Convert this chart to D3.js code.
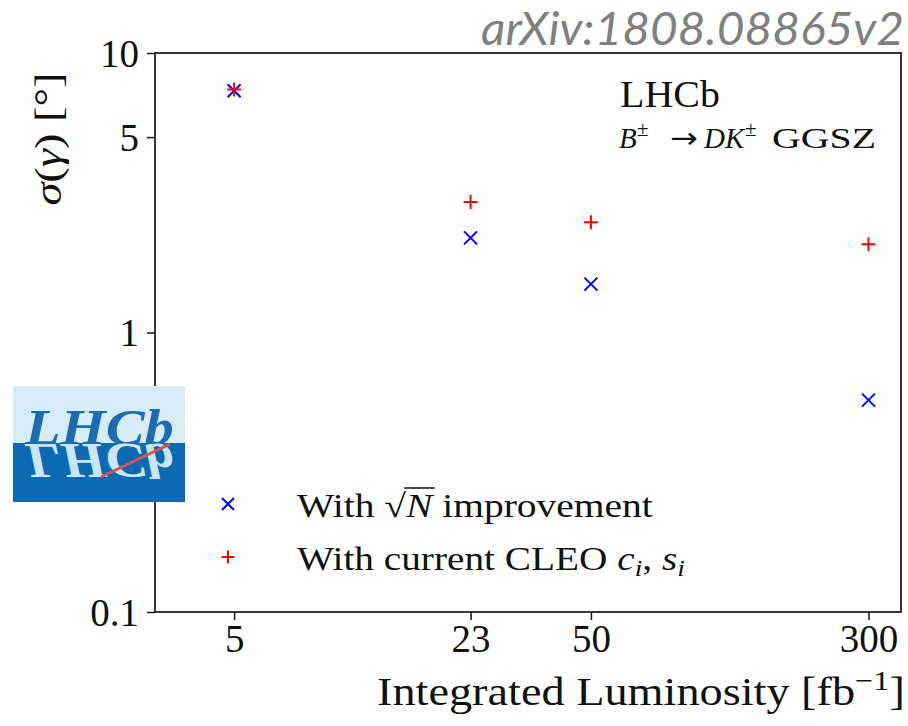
<!DOCTYPE html>
<html>
<head>
<meta charset="utf-8">
<script src="https://cdn.jsdelivr.net/npm/d3@7"></script>
<style>
  html, body { margin: 0; padding: 0; background: #fff; }
  svg { display: block; }
</style>
</head>
<body>
<svg id="chart" width="908" height="726"></svg>
<script>
// Integrated luminosity points (fb^-1) and the projected gamma precision (degrees)
const lumi = [5, 23, 50, 300];
const sigmaSqrtN = [7.33, 2.18, 1.49, 0.573];   // with sqrt(N) improvement
const sigmaCLEO = [7.41, 2.93, 2.48, 2.07];     // with current CLEO c_i, s_i
const xTickValues = [5, 23, 50, 300];
const yTickValues = [0.1, 1, 5, 10];
const yTickLabels = ["0.1", "1", "5", "10"];

const svg = d3.select("#chart");
const plot = { left: 155, right: 901, top: 53, bottom: 612 };

const x = d3.scaleLog().domain([3, 370]).range([plot.left, plot.right]);
const y = d3.scaleLog().domain([0.1, 10]).range([plot.bottom, plot.top]);

const serif = '"Liberation Serif", "DejaVu Serif", serif';
const ink = "#111";

// stretch a text group horizontally so it spans the given width
function stretchTo(g, text, x0, width) {
  const w = text.node().getBBox().width;
  const s = width / w;
  g.attr("transform", `translate(${x0},0) scale(${s},1)`);
  return s;
}

// watermark
{
  const g = svg.append("g");
  const t = g.append("text")
    .attr("x", 0).attr("y", 45)
    .attr("font-family", "Lato, 'Open Sans', sans-serif")
    .attr("font-style", "italic")
    .attr("font-weight", 400)
    .attr("font-size", 46)
    .attr("fill", "#808080")
    .text("arXiv:1808.08865v2");
  stretchTo(g, t, 481, 423);
}

// axes
const xAxis = d3.axisBottom(x)
  .tickValues(xTickValues)
  .tickFormat(d => String(d))
  .tickSize(8).tickSizeOuter(0).tickPadding(3);
const gx = svg.append("g")
  .attr("transform", `translate(0,${plot.bottom})`)
  .call(xAxis);

const yAxis = d3.axisLeft(y)
  .tickValues(yTickValues)
  .tickFormat(d => yTickLabels[yTickValues.indexOf(d)])
  .tickSize(8).tickSizeOuter(0).tickPadding(8);
const gy = svg.append("g")
  .attr("transform", `translate(${plot.left},0)`)
  .call(yAxis);

[gx, gy].forEach(g => {
  g.select(".domain").remove();
  g.selectAll(".tick line").attr("stroke", "#222").attr("stroke-width", 1.6);
  g.selectAll(".tick text")
    .attr("font-family", serif)
    .attr("font-size", 39)
    .attr("fill", ink);
});
gx.selectAll(".tick text").attr("dy", "0.75em");
gy.selectAll(".tick text").attr("dy", "0.34em");

// frame
svg.append("rect")
  .attr("x", plot.left).attr("y", plot.top)
  .attr("width", plot.right - plot.left)
  .attr("height", plot.bottom - plot.top)
  .attr("fill", "none")
  .attr("stroke", "#222")
  .attr("stroke-width", 1.8);

// x axis title
{
  const g = svg.append("g");
  const t = g.append("text")
    .attr("x", 0).attr("y", 705)
    .attr("font-family", serif)
    .attr("font-size", 40)
    .attr("fill", ink);
  t.append("tspan").text("Integrated Luminosity [fb");
  t.append("tspan").attr("dy", -15).attr("font-size", 28).text("\u22121");
  t.append("tspan").attr("dy", 15).text("]");
  stretchTo(g, t, 377, 528);
}

// y axis title
{
  const g = svg.append("g");
  const t = g.append("text")
    .attr("x", 0).attr("y", 0)
    .attr("text-anchor", "middle")
    .attr("font-family", serif)
    .attr("font-size", 39)
    .attr("fill", ink);
  t.append("tspan").attr("font-style", "italic").text("\u03C3");
  t.append("tspan").text("(");
  t.append("tspan").attr("font-style", "italic").text("\u03B3");
  t.append("tspan").text(") [\u00B0]");
  const w = t.node().getBBox().width;
  g.attr("transform", `translate(61,139) rotate(-90) scale(${133 / w},1)`);
}

// marker shapes
const crossPath = s => `M${-s},${-s}L${s},${s}M${-s},${s}L${s},${-s}`;
const plusPath = s => `M${-s},0L${s},0M0,${-s}L0,${s}`;

const gPts = svg.append("g");
gPts.selectAll("path.sqrtn")
  .data(lumi.map((l, i) => ({ l, v: sigmaSqrtN[i] })))
  .join("path").attr("class", "sqrtn")
  .attr("transform", d => `translate(${x(d.l)},${y(d.v)})`)
  .attr("d", crossPath(6.5))
  .attr("stroke", "#0000ff").attr("stroke-width", 2).attr("fill", "none");
gPts.selectAll("path.cleo")
  .data(lumi.map((l, i) => ({ l, v: sigmaCLEO[i] })))
  .join("path").attr("class", "cleo")
  .attr("transform", d => `translate(${x(d.l)},${y(d.v)})`)
  .attr("d", plusPath(7))
  .attr("stroke", "#ff0000").attr("stroke-width", 2).attr("fill", "none");

// experiment label
{
  const g = svg.append("g");
  const t = g.append("text")
    .attr("x", 0).attr("y", 107)
    .attr("font-family", serif).attr("font-size", 37).attr("fill", ink)
    .text("LHCb");
  stretchTo(g, t, 620, 100);
}
{
  const t = svg.append("text")
    .attr("y", 148)
    .attr("font-family", serif).attr("font-size", 29).attr("fill", ink);
  t.append("tspan").attr("x", 619).attr("font-style", "italic").text("B");
  t.append("tspan").attr("x", 637).attr("dy", -12).attr("font-size", 21).text("\u00B1");
  t.append("tspan").attr("x", 670).attr("dy", 12)
    .attr("font-family", "'DejaVu Sans', sans-serif").attr("font-size", 29)
    .attr("textLength", 28).attr("lengthAdjust", "spacingAndGlyphs").text("\u2192");
  t.append("tspan").attr("x", 704).attr("font-style", "italic").text("DK");
  t.append("tspan").attr("x", 745).attr("dy", -12).attr("font-size", 21).text("\u00B1");
  t.append("tspan").attr("x", 772).attr("dy", 12).attr("textLength", 104)
    .attr("lengthAdjust", "spacingAndGlyphs").text("GGSZ");
}

// legend
const lg = svg.append("g");
lg.append("path").attr("transform", "translate(228,504)")
  .attr("d", crossPath(6)).attr("stroke", "#0000ff").attr("stroke-width", 2).attr("fill", "none");
lg.append("path").attr("transform", "translate(228,557)")
  .attr("d", plusPath(6.5)).attr("stroke", "#ff0000").attr("stroke-width", 2).attr("fill", "none");

{
  const g = lg.append("g");
  const t = g.append("text")
    .attr("x", 0).attr("y", 517)
    .attr("font-family", serif).attr("font-size", 33).attr("fill", ink);
  t.append("tspan").text("With ");
  t.append("tspan").text("\u221A");
  t.append("tspan").attr("font-style", "italic").text("N");
  t.append("tspan").text(" improvement");
  // radical overbar over N
  const n = t.node();
  const sqEnd = n.getEndPositionOfChar(5);
  const nEnd = n.getEndPositionOfChar(6);
  g.append("line")
    .attr("x1", sqEnd.x - 1.5).attr("x2", nEnd.x + 2)
    .attr("y1", 517 - 29).attr("y2", 517 - 29)
    .attr("stroke", ink).attr("stroke-width", 1.5);
  stretchTo(g, t, 297, 356);
}
{
  const g = lg.append("g");
  const t = g.append("text")
    .attr("x", 0).attr("y", 570)
    .attr("font-family", serif).attr("font-size", 33).attr("fill", ink);
  t.append("tspan").text("With current CLEO ");
  t.append("tspan").attr("font-style", "italic").text("c");
  t.append("tspan").attr("font-style", "italic").attr("dy", 6).attr("font-size", 23).text("i");
  t.append("tspan").attr("dy", -6).text(", ");
  t.append("tspan").attr("font-style", "italic").text("s");
  t.append("tspan").attr("font-style", "italic").attr("dy", 6).attr("font-size", 23).text("i");
  stretchTo(g, t, 297, 388);
}

// experiment logo
const logo = svg.append("g").attr("transform", "translate(13,386)");
const lw = 172, lh = 116, split = 57;
logo.append("clipPath").attr("id", "logoClip")
  .append("rect").attr("width", lw).attr("height", lh);
const lc = logo.append("g").attr("clip-path", "url(#logoClip)");
lc.append("rect").attr("width", lw).attr("height", split).attr("fill", "#d6edf8");
lc.append("rect").attr("y", split).attr("width", lw).attr("height", lh - split).attr("fill", "#0b6ab3");
const word = lc.append("g").attr("fill", "#1c6cb2");
const wordText = word.append("text")
  .attr("id", "logoWord")
  .attr("x", 0).attr("y", split + 1)
  .attr("font-family", serif).attr("font-style", "italic").attr("font-weight", "bold")
  .attr("font-size", 50)
  .text("LHCb");
{
  const w = wordText.node().getBBox().width;
  const s = 150 / w;
  word.attr("transform", `translate(12,0) scale(${s},1)`);
  // mirrored reflection below the horizon
  lc.append("use")
    .attr("href", "#logoWord")
    .attr("fill", "#cde6f5")
    .attr("transform", `translate(12,${2 * (split + 1)}) scale(${s},-1)`);
}
lc.append("line")
  .attr("x1", 88).attr("y1", 91).attr("x2", 157).attr("y2", 58)
  .attr("stroke", "#d9534f").attr("stroke-width", 3);
</script>
</body>
</html>
